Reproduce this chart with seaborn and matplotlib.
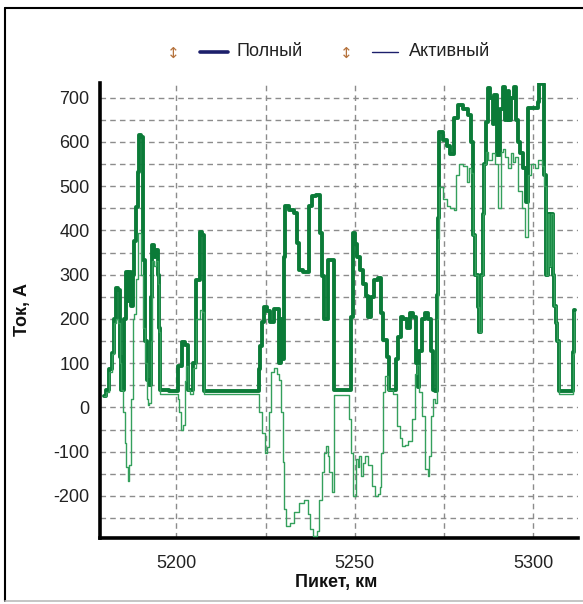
import matplotlib
matplotlib.use("Agg")
import matplotlib.pyplot as plt
from matplotlib.lines import Line2D
from matplotlib.ticker import MultipleLocator
import numpy as np
import pandas as pd
import seaborn as sns

# ---- data: Полный (full current), km / A ----
full_km = [5179.6, 5181.0, 5181.4, 5182.4, 5182.8, 5183.3, 5184.0, 5184.3, 5184.9, 5185.6,
           5186.0, 5186.6, 5187.0, 5187.5, 5188.0, 5188.4, 5188.9, 5189.4, 5189.8, 5190.5,
           5191.0, 5191.4, 5191.9, 5192.6, 5193.1, 5193.5, 5194.0, 5194.6, 5195.0, 5195.4,
           5195.7, 5200.1, 5201.0, 5202.0, 5202.9, 5203.4, 5204.3, 5205.0, 5206.2, 5206.9,
           5207.7, 5208.0, 5223.0, 5223.3, 5223.7, 5224.5, 5224.9, 5225.9, 5226.8, 5227.7,
           5228.7, 5229.1, 5229.6, 5230.1, 5230.4, 5230.8, 5232.4, 5233.6, 5234.1, 5234.7,
           5236.1, 5237.1, 5237.5, 5238.5, 5239.9, 5240.5, 5241.3, 5241.7, 5242.4, 5242.9,
           5243.9, 5244.3, 5249.0, 5249.2, 5249.7, 5250.4, 5251.1, 5252.0, 5252.9, 5253.4,
           5254.3, 5255.1, 5255.7, 5257.1, 5257.6, 5258.5, 5259.4, 5259.9, 5261.1, 5261.8,
           5262.7, 5263.2, 5264.1, 5265.1, 5266.0, 5266.9, 5267.6, 5267.9, 5268.3, 5269.3,
           5270.2, 5271.1, 5271.6, 5272.3, 5273.0, 5273.2, 5273.5, 5273.9, 5275.4, 5276.3,
           5277.2, 5278.2, 5279.6, 5281.4, 5282.4, 5282.8, 5283.3, 5284.2, 5284.7, 5285.2,
           5285.6, 5286.1, 5286.6, 5287.0, 5287.7, 5288.4, 5288.9, 5289.4, 5290.3, 5291.2,
           5291.7, 5292.6, 5293.1, 5293.6, 5294.2, 5295.0, 5295.4, 5295.9, 5296.8, 5297.8,
           5298.2, 5298.7, 5301.0, 5301.5, 5302.0, 5302.9, 5303.4, 5303.8, 5304.3, 5304.8,
           5305.3, 5305.7, 5306.2, 5306.6, 5307.1, 5307.6, 5311.1, 5311.3, 5311.8]
full_a = [25, 40, 86, 124, 200, 270, 265, 115, 40, 200,
          307, 240, 305, 230, 300, 375, 453, 533, 616, 612,
          334, 150, 63, 50, 250, 368, 340, 355, 300, 180,
          40, 38, 93, 147, 140, 40, 40, 100, 289, 397,
          390, 38, 38, 86, 138, 192, 228, 218, 192, 222,
          222, 101, 200, 110, 341, 454, 447, 440, 372, 311,
          305, 305, 454, 477, 480, 395, 296, 199, 200, 334,
          334, 40, 40, 205, 395, 370, 340, 310, 280, 251,
          205, 250, 289, 292, 214, 153, 115, 40, 40, 110,
          160, 205, 200, 180, 214, 205, 100, 47, 128, 199,
          214, 200, 128, 40, 36, 255, 429, 623, 605, 590,
          573, 655, 684, 675, 660, 600, 390, 300, 226, 170,
          300, 436, 550, 645, 722, 700, 640, 705, 570, 675,
          725, 650, 715, 650, 700, 725, 650, 600, 575, 540,
          465, 677, 677, 690, 735, 730, 526, 300, 436, 320,
          436, 300, 230, 190, 150, 36, 36, 126, 220]

# ---- data: Активный (active current), km / A ----
act_km = [5179.6, 5181.0, 5181.4, 5182.4, 5182.8, 5183.3, 5184.0, 5184.3, 5184.9, 5185.3,
          5185.8, 5186.2, 5186.6, 5187.0, 5187.5, 5188.0, 5188.4, 5188.9, 5189.4, 5189.8,
          5190.5, 5191.0, 5191.4, 5191.9, 5192.3, 5192.6, 5193.1, 5193.5, 5194.0, 5194.6,
          5195.0, 5195.4, 5195.7, 5200.1, 5200.6, 5201.0, 5201.7, 5202.2, 5202.5, 5202.9,
          5203.4, 5204.3, 5205.0, 5206.2, 5206.9, 5207.7, 5208.0, 5223.0, 5223.5, 5224.5,
          5225.2, 5225.9, 5226.3, 5226.8, 5227.7, 5228.7, 5229.1, 5229.6, 5230.1, 5230.5,
          5231.2, 5232.4, 5233.8, 5235.2, 5236.6, 5237.1, 5238.0, 5238.9, 5239.9, 5240.3,
          5241.3, 5241.7, 5242.2, 5242.7, 5243.1, 5244.1, 5244.5, 5248.3, 5248.7, 5249.2,
          5249.9, 5250.6, 5251.1, 5251.5, 5252.0, 5252.5, 5253.4, 5254.3, 5255.3, 5255.9,
          5256.9, 5257.3, 5257.6, 5258.1, 5259.0, 5259.9, 5261.3, 5262.3, 5262.9, 5263.7,
          5264.6, 5265.5, 5266.5, 5267.2, 5267.9, 5268.3, 5269.3, 5270.2, 5270.7, 5271.1,
          5271.6, 5272.3, 5273.0, 5273.2, 5273.5, 5273.9, 5275.4, 5276.3, 5277.2, 5278.2,
          5278.6, 5279.6, 5281.0, 5281.9, 5282.4, 5282.8, 5283.3, 5284.2, 5284.7, 5285.2,
          5285.6, 5286.1, 5286.6, 5287.0, 5288.0, 5288.9, 5289.8, 5290.8, 5291.2, 5291.7,
          5292.6, 5293.6, 5294.0, 5294.5, 5295.4, 5296.4, 5297.3, 5298.2, 5298.7, 5300.1,
          5301.0, 5302.0, 5302.9, 5303.4, 5303.8, 5304.3, 5304.8, 5305.3, 5305.7, 5306.2,
          5306.6, 5307.1, 5307.6, 5311.1, 5311.3, 5311.8]
act_a = [25, 35, 80, 120, 190, 200, 190, 100, 40, -11,
         -80, -135, -167, -130, 20, 200, 210, 290, 395, 395,
         300, 180, 100, 20, 5, 10, 150, 330, 320, 330,
         280, 170, 30, 30, 20, -10, -50, -40, 60, 93,
         40, 30, 90, 200, 221, 215, 30, 30, -11, -57,
         -102, -90, -11, 79, 90, 75, 61, -11, -124, -230,
         -268, -262, -237, -215, -210, -240, -275, -290, -280, -210,
         -147, -102, -88, -110, -147, -192, 28, 28, -27, -102,
         -200, -117, -135, -110, -155, -125, -110, -130, -178, -200,
         -195, -180, -102, 34, 70, 40, 30, -43, -68, -88,
         -85, -75, -27, 75, 95, 35, -20, -140, -155, -110,
         -20, 20, 10, 200, 380, 497, 470, 455, 450, 445,
         526, 549, 545, 510, 540, 530, 390, 300, 226, 170,
         300, 436, 549, 578, 560, 575, 550, 451, 578, 585,
         565, 540, 575, 555, 565, 488, 451, 384, 526, 549,
         540, 560, 545, 500, 300, 436, 320, 436, 300, 230,
         190, 150, 30, 30, 120, 215]

series_names = ["Полный", "Активный"]
x_label = "Пикет, км"
y_label = "Ток, А"

df_full = pd.DataFrame({"km": full_km, "A": full_a})
df_act = pd.DataFrame({"km": act_km, "A": act_a})

sns.set_style("white")
plt.rcParams["font.family"] = ["Liberation Sans", "DejaVu Sans"]
plt.rcParams["axes.unicode_minus"] = False

W, H = 583, 604
fig = plt.figure(figsize=(W / 100, H / 100), dpi=100)
ax = fig.add_axes([100 / W, 1 - 538 / H, 478 / W, 455 / H])

green_dark = "#0b7b38"
green_light = "#34a05c"
navy = "#1c1f6b"

sns.lineplot(data=df_full, x="km", y="A", ax=ax, color=green_dark, linewidth=2.8,
             estimator=None, sort=False, zorder=3, drawstyle="steps-mid")
sns.lineplot(data=df_act, x="km", y="A", ax=ax, color=green_light, linewidth=1.0,
             estimator=None, sort=False, zorder=4, drawstyle="steps-mid")

ax.set_xlim(5178.6, 5312.6)
ax.set_ylim(-295, 733)

ax.xaxis.set_major_locator(MultipleLocator(50))
ax.xaxis.set_minor_locator(MultipleLocator(25))
ax.yaxis.set_major_locator(MultipleLocator(100))
ax.yaxis.set_minor_locator(MultipleLocator(50))

grid_kw = dict(color="#8c8c8c", linestyle=(0, (4, 3)), linewidth=1.0)
ax.grid(True, which="both", axis="both", **grid_kw)
ax.set_axisbelow(True)

for s in ["top", "right"]:
    ax.spines[s].set_visible(False)
for s in ["left", "bottom"]:
    ax.spines[s].set_linewidth(2.6)
    ax.spines[s].set_color("black")

ax.tick_params(axis="both", which="both", direction="inout", length=11, width=1,
               color="#777777", labelsize=13, labelcolor="#222222")
ax.tick_params(axis="y", which="both", pad=2)
ax.tick_params(axis="x", which="both", pad=7)

ax.set_xlabel("")
ax.set_ylabel("")
fig.text(336 / W, 1 - 583 / H, x_label, fontsize=13, fontweight="bold",
         ha="center", va="center", color="#111111")
fig.text(23 / W, 1 - 310 / H, y_label, fontsize=13, fontweight="bold",
         ha="center", va="center", rotation=90, color="#111111")

# ---- legend (drawn manually above the plot) ----
icon_color = "#b5723c"
ly = 1 - 52 / H
fig.text(173 / W, 1 - 53 / H, "↕", fontsize=11, color=icon_color,
         ha="center", va="center", family=["DejaVu Sans"])
fig.add_artist(Line2D([200 / W, 228 / W], [ly, ly],
                      color=navy, linewidth=2.6, transform=fig.transFigure))
fig.text(237 / W, ly, series_names[0], fontsize=13, color="#222222",
         ha="left", va="center")
fig.text(346 / W, 1 - 53 / H, "↕", fontsize=11, color=icon_color,
         ha="center", va="center", family=["DejaVu Sans"])
fig.add_artist(Line2D([372 / W, 398 / W], [ly, ly],
                      color=navy, linewidth=1.0, transform=fig.transFigure))
fig.text(409 / W, ly, series_names[1], fontsize=13, color="#222222",
         ha="left", va="center")

# ---- outer frame ----
fig.add_artist(Line2D([5 / W, 1.0], [1 - 8 / H, 1 - 8 / H], color="black",
                      linewidth=1.5, transform=fig.transFigure))
fig.add_artist(Line2D([5 / W, 5 / W], [1 - 8 / H, 1 - 601 / H], color="black",
                      linewidth=1.5, transform=fig.transFigure))
fig.add_artist(Line2D([5 / W, 1.0], [1 - 601 / H, 1 - 601 / H], color="#bbbbbb",
                      linewidth=1.2, transform=fig.transFigure))

fig.savefig("out.png", dpi=100)
